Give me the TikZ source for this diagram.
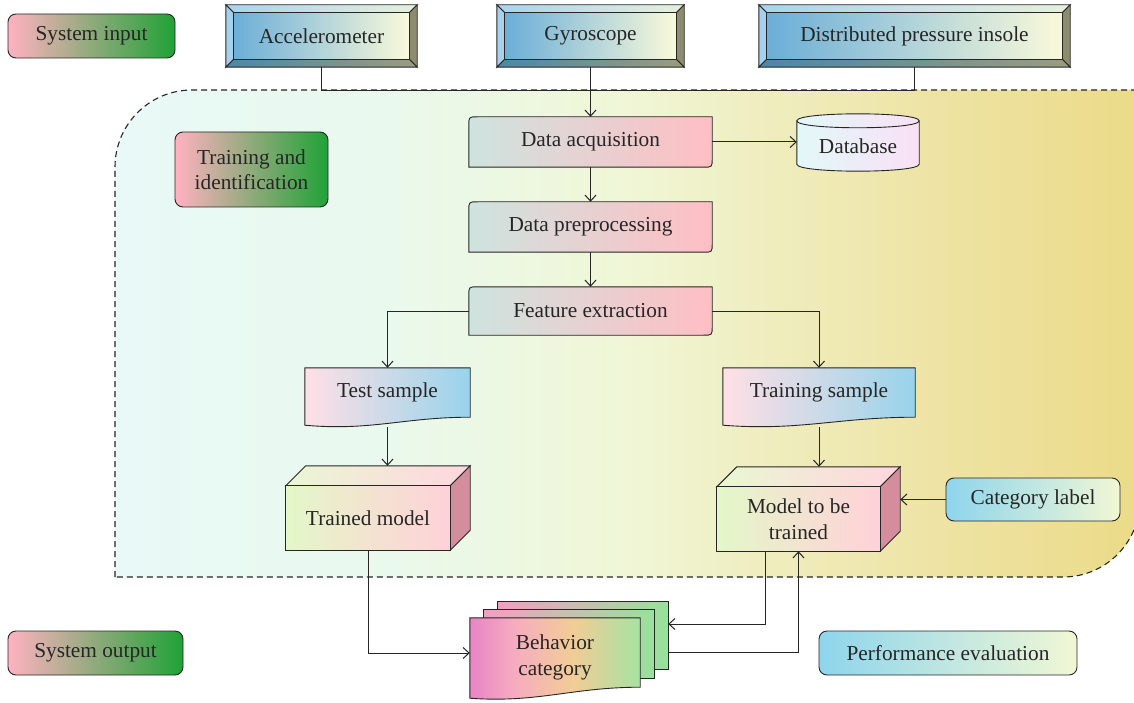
\documentclass[tikz,border=0pt]{standalone}
\usepackage{fontspec}
\setmainfont{Liberation Serif}
\usetikzlibrary{arrows.meta,calc}
\pgfdeclarelayer{region}
\pgfdeclarelayer{shapes}
\pgfsetlayers{region,shapes,main}

\definecolor{ink}{HTML}{262626}
\definecolor{tagL}{HTML}{FFB2C1}
\definecolor{tagM}{HTML}{B9A28A}
\definecolor{tagR}{HTML}{1FA236}
\definecolor{faceL}{HTML}{6BAED8}
\definecolor{faceM}{HTML}{C5EAEE}
\definecolor{faceR}{HTML}{FAF9DA}
\definecolor{bevtopL}{HTML}{A9D3EE}
\definecolor{bevtopR}{HTML}{E6F0DC}
\definecolor{bevleft}{HTML}{A6D0EC}
\definecolor{bevright}{HTML}{8E8C6E}
\definecolor{bevbotL}{HTML}{4C87A6}
\definecolor{bevbotR}{HTML}{9C9C7E}
\definecolor{daL}{HTML}{CFE3DF}
\definecolor{daM}{HTML}{F5DDD4}
\definecolor{daR}{HTML}{FFBEC3}
\definecolor{dbL}{HTML}{E3F8F8}
\definecolor{dbR}{HTML}{F9E0F5}
\definecolor{docL}{HTML}{FFE0E5}
\definecolor{docM}{HTML}{DADCEA}
\definecolor{docR}{HTML}{98D3EA}
\definecolor{cubeL}{HTML}{E4F7C8}
\definecolor{cubeM}{HTML}{EAD9C4}
\definecolor{cubeR}{HTML}{FFD1D9}
\definecolor{cubetopL}{HTML}{E9F7D2}
\definecolor{cubetopR}{HTML}{FFD6DF}
\definecolor{cubeside}{HTML}{D38D9C}
\definecolor{labL}{HTML}{8ED5EC}
\definecolor{labM}{HTML}{D2F4EC}
\definecolor{labR}{HTML}{F1F7D5}
\definecolor{regA}{HTML}{E8F9F7}
\definecolor{regB}{HTML}{EAF9EE}
\definecolor{regC}{HTML}{F0F6D6}
\definecolor{regD}{HTML}{EEE3A4}
\definecolor{regE}{HTML}{EBDB88}
\definecolor{bcA}{HTML}{E884C4}
\definecolor{bcB}{HTML}{F6ACC0}
\definecolor{bcC}{HTML}{F2CC96}
\definecolor{bcD}{HTML}{A6E3A2}
\definecolor{bkL}{HTML}{F59EC2}
\definecolor{bkM}{HTML}{EED393}
\definecolor{bkR}{HTML}{97E29B}

\pgfdeclarehorizontalshading{behaviour}{100bp}{color(0bp)=(bcA); color(25bp)=(bcA); color(38bp)=(bcB); color(55bp)=(bcC); color(75bp)=(bcD); color(100bp)=(bcD)}
\pgfdeclarehorizontalshading{regionwash}{100bp}{color(0bp)=(regA); color(25bp)=(regA); color(38bp)=(regB); color(50bp)=(regC); color(65bp)=(regD); color(75bp)=(regE); color(100bp)=(regE)}

\tikzset{
  every node/.style={font=\fontsize{21.3}{25.5}\selectfont, text=ink, align=center},
  sz/.style 2 args={inner sep=0pt, minimum width=#1pt, minimum height=#2pt},
  edge/.style={draw=ink, line width=1pt},
  arr/.style={edge, -{Straight Barb[length=6pt,width=11pt]}},
  outl/.style={draw=ink, line width=0.9pt},
  tag/.style={outl, rounded corners=8pt, left color=tagL, middle color=tagM, right color=tagR},
  lab/.style={outl, rounded corners=8pt, left color=labL, middle color=labM, right color=labR},
}

% bevelled sensor frame around a node
\newcommand\bevelframe[1]{%
  \coordinate (q1) at (#1.north west);
  \coordinate (q2) at (#1.north east);
  \coordinate (q3) at (#1.south east);
  \coordinate (q4) at (#1.south west);
  \coordinate (p1) at ($(q1)+(8,8)$);
  \coordinate (p2) at ($(q2)+(-8,8)$);
  \coordinate (p3) at ($(q3)+(-8,-8)$);
  \coordinate (p4) at ($(q4)+(8,-8)$);
  \path[outl, left color=bevtopL, right color=bevtopR] (q1) -- (q2) -- (p2) -- (p1) -- cycle;
  \path[outl, fill=bevleft] (q1) -- (p1) -- (p4) -- (q4) -- cycle;
  \path[outl, fill=bevright] (q2) -- (q3) -- (p3) -- (p2) -- cycle;
  \path[outl, left color=bevbotL, right color=bevbotR] (q4) -- (p4) -- (p3) -- (q3) -- cycle;
  \path[outl, left color=faceL, middle color=faceM, right color=faceR] (p1) rectangle (p3);
}

% process box with two rounded corners
\newcommand\procbox[1]{%
  \path[outl, left color=daL, middle color=daM, right color=daR]
    ($(#1.north west)+(0,9)$) .. controls (#1.north west) .. ($(#1.north west)+(9,0)$)
    -- (#1.north east) -- ($(#1.south east)+(0,-9)$)
    .. controls (#1.south east) .. ($(#1.south east)+(-9,0)$)
    -- (#1.south west) -- cycle;
}

% document shape with a wavy lower edge
\newcommand\docshape[3]{%
  \path[outl, #2]
    (#1.north west) -- (#1.north east) -- (#1.south east)
    .. controls ($(#1.south east)!0.4!(#1.south west)$)
       and ($(#1.south west)!0.4!(#1.south east)+(0,#3+6)$) ..
    ($(#1.south west)+(0,#3)$) -- cycle;
}

% box in perspective
\newcommand\cuboid[1]{%
  \path[outl, left color=cubetopL, right color=cubetopR]
    (#1.north west) -- ($(#1.north west)+(20,-20)$) -- ($(#1.north east)+(20,-20)$) -- (#1.north east) -- cycle;
  \path[outl, fill=cubeside]
    (#1.north east) -- ($(#1.north east)+(20,-20)$) -- ($(#1.south east)+(20,-20)$) -- (#1.south east) -- cycle;
  \path[outl, left color=cubeL, middle color=cubeM, right color=cubeR]
    (#1.north west) rectangle (#1.south east);
}

% storage cylinder
\newcommand\drum[1]{%
  \path[outl, left color=dbL, right color=dbR]
    (#1.north west) -- ($(#1.south west)+(0,-7)$)
    .. controls ($(#1.south west)+(0,2.3)$) and ($(#1.south east)+(0,2.3)$) .. ($(#1.south east)+(0,-7)$)
    -- (#1.north east)
    .. controls ($(#1.north east)+(0,-9.3)$) and ($(#1.north west)+(0,-9.3)$) .. (#1.north west) -- cycle;
  \draw[outl] (#1.north west) .. controls ($(#1.north west)+(0,9.3)$) and ($(#1.north east)+(0,9.3)$) .. (#1.north east);
}

\begin{document}
\begin{tikzpicture}[x=1pt,y=-1pt]
\useasboundingbox (0,0) rectangle (1134,703);

% page background and dashed training region
\begin{pgfonlayer}{region}
  \fill[white] (0,0) rectangle (1134,703);
  \path[shading=regionwash]
    (115,577) -- (115,167) .. controls (115,124.5) and (149.5,90) .. (192,90)
    -- (1140,90) -- (1140,500) .. controls (1140,542.5) and (1105.5,577) .. (1063,577) -- cycle;
  \draw[black!85, line width=1.1pt, dash pattern=on 6pt off 4pt]
    (115,577) -- (115,167) .. controls (115,124.5) and (149.5,90) .. (192,90)
    -- (1140,90) -- (1140,500) .. controls (1140,542.5) and (1105.5,577) .. (1063,577) -- cycle;
\end{pgfonlayer}

% section tags
\node[tag, sz={167}{44}] (si) at (91.5,36) {System input};
\node[tag, sz={153}{75}] (ti) at (251.5,169.5) {Training and\\identification};
\node[tag, sz={175}{44}] (so) at (95.5,653) {System output};

% sensors
\node[sz={191}{62}] (acc) at (321.5,36) {Accelerometer};
\node[sz={187}{62}] (gyr) at (590.5,36) {Gyroscope};
\node[sz={311}{62}] (ins) at (914.5,36) {Distributed pressure insole};

% processing chain
\node[sz={243}{50}] (da) at (590.5,142) {Data acquisition};
\node[sz={122}{50}] (db) at (858,146) {Database};
\node[sz={243}{50}] (dp) at (590.5,227) {Data preprocessing};
\node[sz={243}{48}] (fe) at (590.5,311) {Feature extraction};
\node[sz={165}{49}] (ts) at (387.5,392.5) {Test sample};
\node[sz={192}{49}] (trs) at (819,392.5) {Training sample};
\node[sz={164}{64}] (tm) at (368,518) {Trained model};
\node[sz={163}{64}] (mt) at (798.5,519) {Model to be\\trained};
\node[lab, sz={174}{43}] (cl) at (1033,499.5) {Category label};

% output
\node[sz={170}{67}] (bcb) at (583,635.5) {};
\node[sz={170}{68}] (bcm) at (569,644) {};
\node[sz={170}{79}] (bc) at (555,657.5) {Behavior\\category};
\node[lab, sz={258}{44}] (pe) at (948,653) {Performance evaluation};

\begin{pgfonlayer}{shapes}
  \bevelframe{acc}
  \bevelframe{gyr}
  \bevelframe{ins}
  \procbox{da}
  \procbox{dp}
  \procbox{fe}
  \drum{db}
  \docshape{ts}{left color=docL, middle color=docM, right color=docR}{8}
  \docshape{trs}{left color=docL, middle color=docM, right color=docR}{8}
  \cuboid{tm}
  \cuboid{mt}
  \path[outl, left color=bkL, middle color=bkM, right color=bkR] (bcb.north west) rectangle (bcb.south east);
  \path[outl, left color=bkL, middle color=bkM, right color=bkR] (bcm.north west) rectangle (bcm.south east);
  \path[outl, shading=behaviour]
    (bc.north west) -- (bc.north east) -- ([yshift=10pt]bc.south east)
    .. controls ([yshift=10pt]$(bc.south east)!0.4!(bc.south west)$)
       and ($(bc.south west)!0.4!(bc.south east)+(0,6)$) ..
    ($(bc.south west)+(0,1)$) -- cycle;
\end{pgfonlayer}

% connectors
\draw[edge] (acc.south) -- ++(0,23) -| (ins.south);
\draw[arr] (gyr.south) -- (da.north);
\draw[arr] (da.east) -- (da.east -| db.west);
\draw[arr] (da.south) -- (dp.north);
\draw[arr] (dp.south) -- (fe.north);
\draw[arr] (fe.west) -| (ts.north);
\draw[arr] (fe.east) -| (trs.north);
\coordinate (tmtop) at ([xshift=20pt,yshift=20pt]tm.north);
\coordinate (mttop) at ([xshift=20pt,yshift=20pt]mt.north);
\coordinate (mtback) at ([xshift=20pt]mt.east);
\draw[arr] ([yshift=-10pt]ts.south) -- (ts.south |- tmtop);
\draw[arr] ([yshift=-10pt]trs.south) -- (trs.south |- mttop);
\draw[arr] (cl.west) -- (cl.west -| mtback);
\draw[arr] (tm.south) |- ([yshift=4.5pt]bc.west);
\coordinate (mtout) at ($(mt.south west)!0.3!(mt.south east)$);
\draw[arr] (mtout) |- ([yshift=11.5pt]bcb.east);
\draw[arr] ([yshift=-16.5pt]bcb.east) -| (mt.south);
\end{tikzpicture}
\end{document}
